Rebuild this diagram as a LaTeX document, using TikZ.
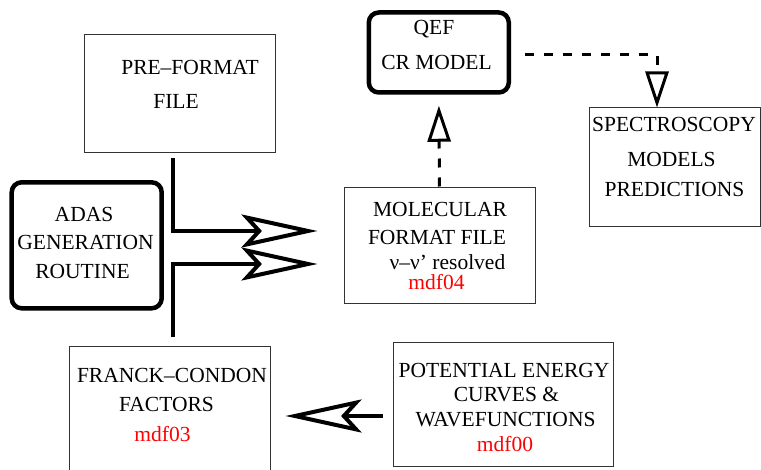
\documentclass[tikz,border=0pt]{standalone}
\usepackage{fontspec}
\setmainfont{Liberation Serif}
\usetikzlibrary{arrows.meta}
\tikzstyle{box}=[draw=black!80,line width=1pt,rectangle,inner sep=0]
\tikzstyle{bigbox}=[draw,line width=4.5pt,rectangle,rounded corners=10pt,inner sep=0]
\tikzstyle{txt}=[anchor=base,inner sep=0,font=\fontsize{21.5}{26}\selectfont]
\tikzstyle{tag}=[txt,text=red]
\tikzstyle{flow}=[line width=4.5pt,-{Stealth[open,length=76pt,width=33pt,inset=15pt,line width=4pt]}]
\tikzstyle{dflow}=[line width=3pt,dash pattern=on 9pt off 10pt,-{Triangle[open,length=36pt,width=23pt]}]

\begin{document}
\begin{tikzpicture}[x=1pt,y=-1pt]
    \useasboundingbox (0,0) rectangle (761,470);
    \clip (0,0) rectangle (761,470);

    % boxes
    \node[box,minimum width=191pt,minimum height=118pt] (pre) at (179.5,94) {};
    \node[bigbox,minimum width=140pt,minimum height=80pt] (qef) at (438.8,52.5) {};
    \node[box,minimum width=171pt,minimum height=119pt] (spec) at (674.5,167.5) {};
    \node[bigbox,minimum width=150pt,minimum height=126pt] (adas) at (86.7,245.3) {};
    \node[box,minimum width=191pt,minimum height=116pt] (mol) at (439.5,246) {};
    \node[box,minimum width=201pt,minimum height=133pt] (fc) at (169.5,413.5) {};
    \node[box,minimum width=220pt,minimum height=123pt] (pot) at (503,404.5) {};

    % box texts
    \node[txt] (pre-a) at (190,75) {PRE–FORMAT};
    \node[txt] (pre-b) at (176,109) {FILE};

    \node[txt] (qef-a) at (434,35) {QEF};
    \node[txt] (qef-b) at (436.5,70) {CR MODEL};

    \node[txt] (spec-a) at (674,132) {SPECTROSCOPY};
    \node[txt] (spec-b) at (671.5,167) {MODELS};
    \node[txt] (spec-c) at (674.5,197) {PREDICTIONS};

    \node[txt] (adas-a) at (84,222) {ADAS};
    \node[txt] (adas-b) at (85.5,250) {GENERATION};
    \node[txt] (adas-c) at (82.5,279) {ROUTINE};

    \node[txt] (mol-a) at (440,217) {MOLECULAR};
    \node[txt] (mol-b) at (437,245) {FORMAT FILE};
    \node[txt] (mol-c) at (447.5,270) {ν–ν’ resolved};
    \node[tag] (mol-d) at (436.5,290) {mdf04};

    \node[txt] (fc-a) at (172,383) {FRANCK–CONDON};
    \node[txt] (fc-b) at (166.5,412) {FACTORS};
    \node[tag] (fc-c) at (162.5,442) {mdf03};

    \node[txt] (pot-a) at (504,378) {POTENTIAL ENERGY};
    \node[txt] (pot-b) at (506.5,402) {CURVES \&};
    \node[txt] (pot-c) at (505.5,427) {WAVEFUNCTIONS};
    \node[tag] (pot-d) at (505,451) {mdf00};

    % bends of the connectors
    \coordinate (upper) at (173,231);
    \coordinate (lower) at (173,264);
    \coordinate (across) at (0,416);
    \coordinate (turn) at (657,55);

    \draw[flow,shorten <=4.5pt,shorten >=26pt] (pre.south -| upper) |- (mol.west |- upper);
    \draw[flow,shorten <=9pt,shorten >=26pt] (fc.north -| lower) |- (mol.west |- lower);
    \draw[flow,shorten <=10pt,shorten >=15pt] (pot.west |- across) -- (fc.east |- across);

    \draw[dflow,shorten <=1pt,shorten >=11pt] (mol.north) -- (qef.south);
    \draw[dflow,shorten <=14pt] (qef.east |- turn) -- (turn) -- (spec.north -| turn);

\end{tikzpicture}
\end{document}
